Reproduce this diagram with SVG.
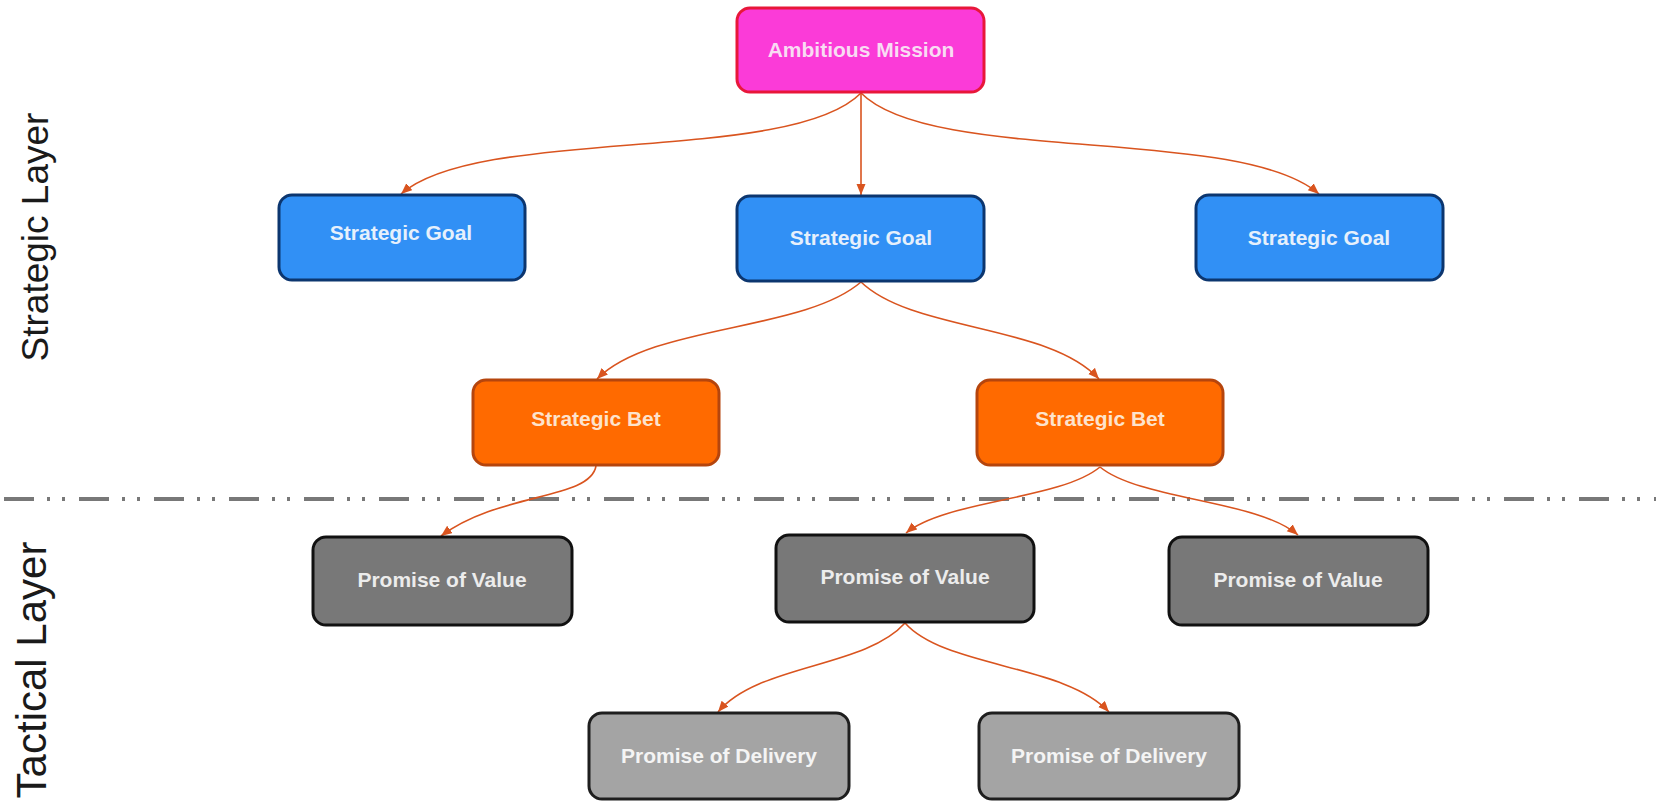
<svg xmlns="http://www.w3.org/2000/svg" width="1656" height="802" viewBox="0 0 1656 802">
  <defs>
    <marker id="arr" markerUnits="userSpaceOnUse" markerWidth="12" markerHeight="10" refX="11" refY="4.5" orient="auto">
      <path d="M0,0 L11,4.5 L0,9 z" fill="#d9541f"/>
    </marker>
    <style>
      .box { stroke-width: 3; }
      .lbl { font-family: "Liberation Sans", Arial, sans-serif; font-weight: bold; font-size: 21px; text-anchor: middle; }
      .side { font-family: "Liberation Sans", Arial, sans-serif; text-anchor: middle; fill: #1a1a1a; }
      .mission rect { fill: #fb3bd8; stroke: #e8173a; }
      .mission text { fill: #f8dcf3; }
      .goal rect { fill: #3190f5; stroke: #0c366f; }
      .goal text { fill: #e6f0fc; }
      .bet rect { fill: #ff6a00; stroke: #b5450d; }
      .bet text { fill: #fde3cc; }
      .pov rect { fill: #787878; stroke: #111111; }
      .pov text { fill: #ececec; }
      .pod rect { fill: #a4a4a4; stroke: #1e1e1e; }
      .pod text { fill: #f4f4f4; }
      .conn path { fill: none; stroke: #d9541f; stroke-width: 1.6; marker-end: url(#arr); }
    </style>
  </defs>

  <rect x="0" y="0" width="1656" height="802" fill="#ffffff"/>

  <!-- layer separator -->
  <line x1="4" y1="499" x2="1656" y2="499" stroke="#787878" stroke-width="4" stroke-dasharray="30 13 3 12 3 14"/>

  <!-- side labels -->
  <text class="side" font-size="37" transform="translate(48,237) rotate(-90)">Strategic Layer</text>
  <text class="side" font-size="42" transform="translate(46,670) rotate(-90)">Tactical Layer</text>

  <!-- connectors -->
  <g id="connectors" class="conn">
    <path d="M861,93 C790,165 480,125 401,194"/>
    <path d="M861,93 L861,195"/>
    <path d="M861,93 C932,165 1240,125 1319,194"/>
    <path d="M861,282 C803,332 652,324 597,379"/>
    <path d="M861,282 C913,332 1049,324 1099,379"/>
    <path d="M596,466 C590,500 500,492 441,536"/>
    <path d="M1100,467 C1060,500 946,500 906,533"/>
    <path d="M1100,467 C1140,500 1258,500 1298,535"/>
    <path d="M905,623 C865,668 758,664 718,712"/>
    <path d="M905,623 C945,668 1065,664 1109,712"/>
  </g>

  <!-- nodes -->
  <g id="mission" class="mission">
    <rect class="box" x="737" y="8" width="247" height="84" rx="13"/>
    <text class="lbl" x="861" y="57">Ambitious Mission</text>
  </g>

  <g id="goal-left" class="goal">
    <rect class="box" x="279" y="195" width="246" height="85" rx="13"/>
    <text class="lbl" x="401" y="240">Strategic Goal</text>
  </g>
  <g id="goal-middle" class="goal">
    <rect class="box" x="737" y="196" width="247" height="85" rx="13"/>
    <text class="lbl" x="861" y="245">Strategic Goal</text>
  </g>
  <g id="goal-right" class="goal">
    <rect class="box" x="1196" y="195" width="247" height="85" rx="13"/>
    <text class="lbl" x="1319" y="245">Strategic Goal</text>
  </g>

  <g id="bet-left" class="bet">
    <rect class="box" x="473" y="380" width="246" height="85" rx="13"/>
    <text class="lbl" x="596" y="426">Strategic Bet</text>
  </g>
  <g id="bet-right" class="bet">
    <rect class="box" x="977" y="380" width="246" height="85" rx="13"/>
    <text class="lbl" x="1100" y="426">Strategic Bet</text>
  </g>

  <g id="pov-left" class="pov">
    <rect class="box" x="313" y="537" width="259" height="88" rx="13"/>
    <text class="lbl" x="442" y="587">Promise of Value</text>
  </g>
  <g id="pov-middle" class="pov">
    <rect class="box" x="776" y="535" width="258" height="87" rx="13"/>
    <text class="lbl" x="905" y="584">Promise of Value</text>
  </g>
  <g id="pov-right" class="pov">
    <rect class="box" x="1169" y="537" width="259" height="88" rx="13"/>
    <text class="lbl" x="1298" y="587">Promise of Value</text>
  </g>

  <g id="pod-left" class="pod">
    <rect class="box" x="589" y="713" width="260" height="86" rx="13"/>
    <text class="lbl" x="719" y="763">Promise of Delivery</text>
  </g>
  <g id="pod-right" class="pod">
    <rect class="box" x="979" y="713" width="260" height="86" rx="13"/>
    <text class="lbl" x="1109" y="763">Promise of Delivery</text>
  </g>
</svg>
